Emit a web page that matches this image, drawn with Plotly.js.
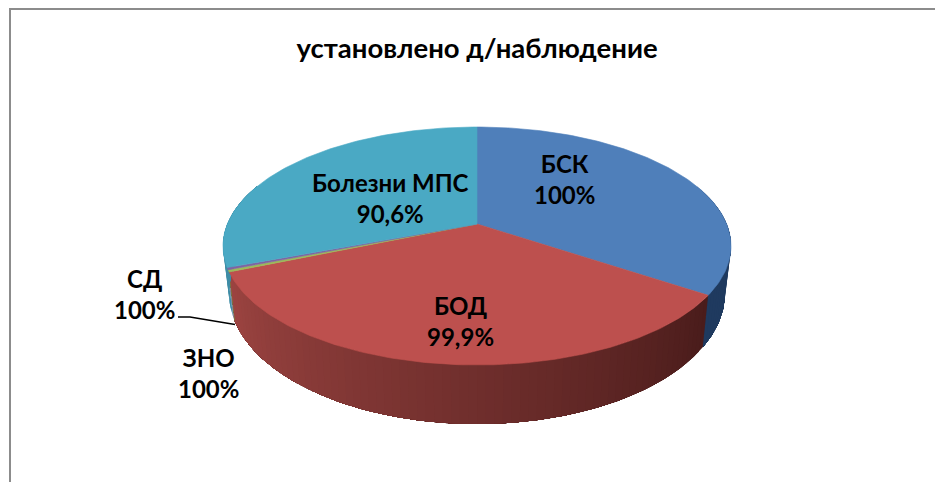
<!DOCTYPE html>
<html><head><meta charset="utf-8">
<script src="https://cdn.plot.ly/plotly-3.0.0.min.js"></script>
<style>html,body{margin:0;padding:0;background:#fff}#c{width:935px;height:482px}</style></head>
<body><div id="c"></div>
<script>
// Data (clockwise from 12 o'clock)
const categories = ['БСК','БОД','СД','ЗНО','Болезни МПС'];
const shares = [31.8,39.7,0.3,0.3,27.9];
const percentLabels = ['100%','99,9%','100%','100%','90,6%'];
const topColors = ['#4f7fba','#bd504e','#9bbb59','#8064a2','#4aa9c4'];
const wallLight = ['#1f3a5f','#9c4441','#6f8a3f','#5d4878','#3f8da6'];
const wallDark  = ['#1f3a5f','#4a1c1b','#6f8a3f','#5d4878','#3f8da6'];

// Projection of the tilted disc (plot units = pixels)
const apex = [477,224];
const topE = {cx:477, cy:246, rx:254, ry:119};
const botE = {cx:477, cy:293, rx:248, ry:131};
const pt = (e,deg)=>{const t=deg*Math.PI/180;return [e.cx+e.rx*Math.sin(t), e.cy-e.ry*Math.cos(t)];};
const hex=c=>[1,3,5].map(i=>parseInt(c.substr(i,2),16));
const mix=(a,b,f)=>{const A=hex(a),B=hex(b);return 'rgb('+A.map((v,i)=>Math.round(v+(B[i]-v)*f)).join(',')+')';};

const total = shares.reduce((a,b)=>a+b,0);
let acc=0;
const spans = shares.map(s=>{const a=acc/total*360;acc+=s;return [a,acc/total*360];});

const traces=[];
const poly=(xs,ys,color,w)=>traces.push({type:'scatter',mode:'lines',x:xs,y:ys,fill:'toself',fillcolor:color,
  line:{color:color,width:w},hoverinfo:'skip',showlegend:false});

// Side walls: painted from the far end of each slice toward its start, each
// band reaching all the way back so no seams show between neighbouring bands.
spans.forEach((sp,i)=>{
  const from=Math.max(sp[0],60), to=Math.min(sp[1],300);
  if(to<=from) return;
  const n=Math.max(1,Math.ceil((to-from)/2));
  for(let k=0;k<n;k++){
    const t0=from+(to-from)*k/n;
    const xsT=[],ysT=[],xsB=[],ysB=[];
    const m=Math.max(2,Math.ceil(to-t0));
    for(let j=0;j<=m;j++){
      const t=t0+(to-t0)*j/m,a=pt(topE,t),b=pt(botE,t);
      xsT.push(a[0]);ysT.push(a[1]);xsB.unshift(b[0]);ysB.unshift(b[1]);
    }
    const f=n>1?1-k/(n-1):0;
    const xs=xsT.concat(xsB),ys=ysT.concat(ysB);
    xs.push(xs[0]);ys.push(ys[0]);
    poly(xs,ys,mix(wallLight[i],wallDark[i],f),0);
  }
});
// Top faces
spans.forEach((sp,i)=>{
  const xs=[apex[0]],ys=[apex[1]];
  const n=Math.max(2,Math.ceil((sp[1]-sp[0])));
  for(let k=0;k<=n;k++){const q=pt(topE,sp[0]+(sp[1]-sp[0])*k/n);xs.push(q[0]);ys.push(q[1]);}
  xs.push(apex[0]);ys.push(apex[1]);
  poly(xs,ys,topColors[i],0.6);
});
// Leader line for СД
traces.push({type:'scatter',mode:'lines',x:[178,190,235],y:[317,317,324.5],line:{color:'#000',width:1.5},hoverinfo:'skip',showlegend:false});

const family='Lato, "Open Sans", sans-serif';
const labelPos=[[564,179],[460,321],[144,294],[208,373],[390,198]];
const annotations=categories.map((c,i)=>({
  x:labelPos[i][0],y:labelPos[i][1],xref:'x',yref:'y',showarrow:false,align:'center',
  text:'<b>'+c+'</b><br><b>'+percentLabels[i]+'</b>',font:{family:family,size:24,color:'#000'}
}));

Plotly.newPlot('c',traces,{
  width:935,height:482,margin:{l:0,r:0,t:0,b:0},
  paper_bgcolor:'#fff',plot_bgcolor:'#fff',showlegend:false,
  title:{text:'<b>установлено д/наблюдение</b>',x:477/935,xanchor:'center',y:1-48/482,yanchor:'middle',font:{family:family,size:27.5,color:'#000'}},
  xaxis:{range:[0,935],visible:false,fixedrange:true},
  yaxis:{range:[482,0],visible:false,fixedrange:true},
  annotations:annotations,
  shapes:[{type:'rect',xref:'x',yref:'y',x0:10,y0:9,x1:960,y1:520,line:{color:'#8c8c8c',width:2},fillcolor:'rgba(0,0,0,0)',layer:'below'}]
},{displayModeBar:false,staticPlot:true});
</script></body></html>
